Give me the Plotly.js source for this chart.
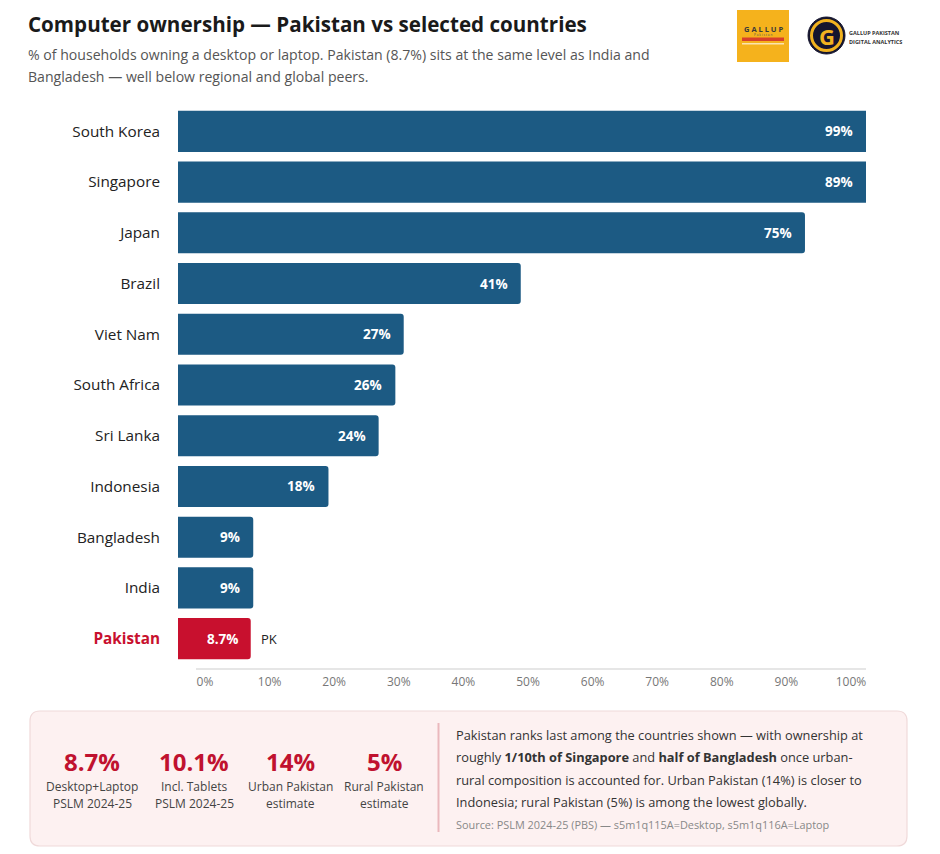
<!DOCTYPE html>
<html>
<head>
<meta charset="utf-8">
<script src="https://cdn.plot.ly/plotly-3.0.1.min.js"></script>
<style>
  html, body { margin: 0; padding: 0; background: #ffffff; }
  #chart { width: 940px; height: 854px; }
</style>
</head>
<body>
<div id="chart"></div>
<script>
// ---------- DATA ----------
const countries = ["South Korea", "Singapore", "Japan", "Brazil", "Viet Nam", "South Africa",
                   "Sri Lanka", "Indonesia", "Bangladesh", "India", "Pakistan"];
const values = [99, 89, 75, 41, 27, 26, 24, 18, 9, 9, 8.7];
const valueLabels = ["99%", "89%", "75%", "41%", "27%", "26%", "24%", "18%", "9%", "9%", "8.7%"];
const axisTickValues = [0, 10, 20, 30, 40, 50, 60, 70, 80, 90, 100];
const axisTickLabels = ["0%", "10%", "20%", "30%", "40%", "50%", "60%", "70%", "80%", "90%", "100%"];
const highlightCountry = "Pakistan";
const highlightTag = "PK";

const statValues = ["8.7%", "10.1%", "14%", "5%"];
const statCaptions1 = ["Desktop+Laptop", "Incl. Tablets", "Urban Pakistan", "Rural Pakistan"];
const statCaptions2 = ["PSLM 2024-25", "PSLM 2024-25", "estimate", "estimate"];

const titleText = "Computer ownership \u2014 Pakistan vs selected countries";
const subtitleLines = [
  "% of households owning a desktop or laptop. Pakistan (8.7%) sits at the same level as India and",
  "Bangladesh \u2014 well below regional and global peers."
];
const noteLines = [
  "Pakistan ranks last among the countries shown \u2014 with ownership at",
  "roughly <b>1/10th of Singapore</b> and <b>half of Bangladesh</b> once urban-",
  "rural composition is accounted for. Urban Pakistan (14%) is closer to",
  "Indonesia; rural Pakistan (5%) is among the lowest globally."
];
const sourceText = "Source: PSLM 2024-25 (PBS) \u2014 s5m1q115A=Desktop, s5m1q116A=Laptop";

// ---------- STYLE / LAYOUT ----------
const FONT = "Open Sans, Noto Sans, sans-serif";
const BLUE = "#1c5a83";
const RED = "#c8102e";
const XMAX = 82.3;

const W = 940, H = 854;
const M = { l: 178, r: 74, t: 106, b: 190 };
const PW = W - M.l - M.r, PH = H - M.t - M.b;
const px = x => (x - M.l) / PW;
const py = y => (H - M.b - y) / PH;

const barColors = countries.map(c => c === highlightCountry ? RED : BLUE);
const tickText = countries.map(c => c === highlightCountry
  ? '<span style="color:' + RED + '"><b>' + c + '</b></span>' : c);

const traces = [
  {
    type: "bar", orientation: "h",
    x: values, y: countries,
    marker: { color: barColors, cornerradius: 3 },
    hoverinfo: "skip"
  },
  {
    type: "scatter", mode: "markers",
    x: [axisTickValues[0]], y: [countries[0]],
    xaxis: "x2", yaxis: "y",
    marker: { opacity: 0 }, hoverinfo: "skip", showlegend: false
  }
];

const annotations = [];
const shapes = [];
const ann = o => annotations.push(Object.assign({ showarrow: false, borderpad: 0 }, o));

// value labels inside bars
countries.forEach((c, i) => {
  ann({
    xref: "x", yref: "y", x: Math.min(values[i], XMAX), y: c,
    xanchor: "right", yanchor: "middle", xshift: -12,
    text: "<b>" + valueLabels[i] + "</b>",
    font: { family: FONT, size: 13.5, color: "#ffffff" }
  });
  if (c === highlightCountry) {
    ann({
      xref: "x", yref: "y", x: values[i], y: c,
      xanchor: "left", yanchor: "middle", xshift: 9,
      text: highlightTag,
      font: { family: FONT, size: 13, color: "#222" }
    });
  }
});

// title & subtitle
ann({
  xref: "paper", yref: "paper", x: px(27), y: py(24), xanchor: "left", yanchor: "middle",
  text: "<b>" + titleText + "</b>",
  font: { family: FONT, size: 20.6, color: "#1a1a1a" }
});
subtitleLines.forEach((t, i) => {
  ann({
    xref: "paper", yref: "paper", x: px(27), y: py(54 + i * 23), xanchor: "left", yanchor: "middle",
    text: t, font: { family: FONT, size: 14.1, color: "#555" }
  });
});

// axis line
shapes.push({
  type: "line", xref: "paper", yref: "paper", x0: px(196), x1: px(866), y0: py(669), y1: py(669),
  line: { color: "#dedede", width: 1.5 }
});

// logos
shapes.push({
  type: "rect", xref: "paper", yref: "paper", x0: px(737), x1: px(789), y0: py(62), y1: py(10),
  fillcolor: "#f5b21c", line: { width: 0 }
});
shapes.push({
  type: "rect", xref: "paper", yref: "paper", x0: px(742), x1: px(784), y0: py(41), y1: py(37.5),
  fillcolor: "#d8402a", line: { width: 0 }
});
shapes.push({
  type: "rect", xref: "paper", yref: "paper", x0: px(742), x1: px(784), y0: py(44.5), y1: py(43),
  fillcolor: "#fbe3b0", line: { width: 0 }
});
ann({
  xref: "paper", yref: "paper", x: px(763), y: py(28.5), xanchor: "center", yanchor: "middle",
  text: "<b>G A L L U P</b>", font: { family: FONT, size: 7.5, color: "#3a3a3a" }
});
ann({
  xref: "paper", yref: "paper", x: px(763), y: py(35), xanchor: "center", yanchor: "middle",
  text: "P a k i s t a n", font: { family: FONT, size: 3.2, color: "#555" }
});
shapes.push({
  type: "circle", xref: "paper", yref: "paper", x0: px(808), x1: px(845), y0: py(54), y1: py(17),
  fillcolor: "#15152e", line: { color: "#15152e", width: 1 }
});
shapes.push({
  type: "circle", xref: "paper", yref: "paper", x0: px(811.5), x1: px(841.5), y0: py(50.5), y1: py(20.5),
  fillcolor: "rgba(0,0,0,0)", line: { color: "#f1b21f", width: 3 }
});
ann({
  xref: "paper", yref: "paper", x: px(826.5), y: py(36.5), xanchor: "center", yanchor: "middle",
  text: "<b>G</b>", font: { family: FONT, size: 22, color: "#f1b21f" }
});
ann({
  xref: "paper", yref: "paper", x: px(848), y: py(33), xanchor: "left", yanchor: "middle",
  text: "<b>GALLUP PAKISTAN</b>", font: { family: FONT, size: 5.5, color: "#333" }
});
ann({
  xref: "paper", yref: "paper", x: px(848), y: py(41.5), xanchor: "left", yanchor: "middle",
  text: "<b>DIGITAL ANALYTICS</b>", font: { family: FONT, size: 5.5, color: "#333" }
});

// bottom panel (rounded rect)
(function () {
  const x0 = 30, x1 = 907, y0 = 711, y1 = 846, r = 10;
  const P = (x, y) => px(x) + "," + py(y);
  const path = "M" + P(x0 + r, y0) + " L" + P(x1 - r, y0) + " Q" + P(x1, y0) + " " + P(x1, y0 + r) +
    " L" + P(x1, y1 - r) + " Q" + P(x1, y1) + " " + P(x1 - r, y1) +
    " L" + P(x0 + r, y1) + " Q" + P(x0, y1) + " " + P(x0, y1 - r) +
    " L" + P(x0, y0 + r) + " Q" + P(x0, y0) + " " + P(x0 + r, y0) + " Z";
  shapes.push({
    type: "path", xref: "paper", yref: "paper", path: path, layer: "below",
    fillcolor: "#fdf1f1", line: { color: "#f0dada", width: 1.2 }
  });
})();
shapes.push({
  type: "line", xref: "paper", yref: "paper", x0: px(438.5), x1: px(438.5), y0: py(723), y1: py(832),
  line: { color: "#eab8bd", width: 2 }
});

const statCenters = [92, 194, 290, 384];
statValues.forEach((v, i) => {
  ann({
    xref: "paper", yref: "paper", x: px(statCenters[i]), y: py(761), xanchor: "center", yanchor: "middle",
    text: "<b>" + v + "</b>", font: { family: FONT, size: 24, color: "#c0122f" }
  });
  ann({
    xref: "paper", yref: "paper", x: px(statCenters[i]), y: py(786), xanchor: "center", yanchor: "middle",
    text: statCaptions1[i], font: { family: FONT, size: 12, color: "#444" }
  });
  ann({
    xref: "paper", yref: "paper", x: px(statCenters[i]), y: py(803), xanchor: "center", yanchor: "middle",
    text: statCaptions2[i], font: { family: FONT, size: 12, color: "#444" }
  });
});

noteLines.forEach((t, i) => {
  ann({
    xref: "paper", yref: "paper", x: px(455), y: py(735 + i * 22.4), xanchor: "left", yanchor: "middle",
    text: t, font: { family: FONT, size: 12.8, color: "#333" }
  });
});
ann({
  xref: "paper", yref: "paper", x: px(455), y: py(824), xanchor: "left", yanchor: "middle",
  text: sourceText, font: { family: FONT, size: 10.9, color: "#888" }
});

// secondary axis range so that 0%..100% labels land where the reference puts them
const LBL0 = 205, LBL100 = 851;
const unitPx = (LBL100 - LBL0) / 100;
const x2range = [-(LBL0 - M.l) / unitPx, (M.l + PW - LBL0) / unitPx];

const layout = {
  width: W, height: H,
  margin: M,
  paper_bgcolor: "#ffffff", plot_bgcolor: "rgba(0,0,0,0)",
  showlegend: false,
  bargap: 0.19,
  font: { family: FONT },
  xaxis: { range: [0, XMAX], visible: false, fixedrange: true },
  xaxis2: {
    overlaying: "x", anchor: "y", side: "bottom",
    range: x2range, tickmode: "array", tickvals: axisTickValues, ticktext: axisTickLabels,
    showgrid: false, zeroline: false, showline: false, ticks: "",
    ticklabelstandoff: 9,
    tickfont: { family: FONT, size: 12, color: "#777" }, fixedrange: true
  },
  yaxis: {
    type: "category", categoryorder: "array", categoryarray: countries,
    range: [countries.length - 0.5, -0.5], autorange: false,
    tickmode: "array", tickvals: countries, ticktext: tickText,
    showgrid: false, zeroline: false, showline: false, ticks: "",
    ticklabelstandoff: 17,
    tickfont: { family: FONT, size: 15.3, color: "#222", weight: 500 }, fixedrange: true
  },
  annotations: annotations,
  shapes: shapes
};

Plotly.newPlot("chart", traces, layout, { displayModeBar: false, staticPlot: true });
</script>
</body>
</html>
